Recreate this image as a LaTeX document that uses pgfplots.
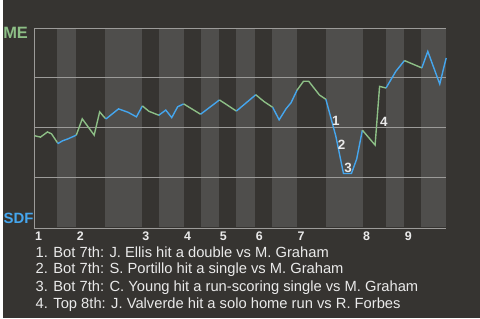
\documentclass[border=0pt]{standalone}
\usepackage{pgfplots}
\pgfplotsset{compat=1.18}
\usepackage{fontspec}
\setmainfont{Liberation Sans}
\definecolor{bg}{HTML}{363431}
\definecolor{band}{HTML}{4F4E4C}
\definecolor{gridc}{HTML}{9C9B99}
\definecolor{me}{HTML}{8DBF86}
\definecolor{sdf}{HTML}{45A6EE}
\definecolor{txt}{HTML}{EAEAEA}
\begin{document}
\begin{tikzpicture}
\fill[bg] (0pt,0pt) rectangle (480pt,320pt);
\begin{axis}[at={(32pt,91.7pt)}, anchor=south west, scale only axis,
  width=414pt, height=200pt, xmin=32, xmax=446, ymin=0, ymax=100,
  hide axis, clip=false]
% half-inning bands (bottom halves)
\fill[band] (axis cs:55,0) rectangle (axis cs:74,100);
\fill[band] (axis cs:103,0) rectangle (axis cs:140,100);
\fill[band] (axis cs:157,0) rectangle (axis cs:182,100);
\fill[band] (axis cs:199,0) rectangle (axis cs:218,100);
\fill[band] (axis cs:235,0) rectangle (axis cs:254,100);
\fill[band] (axis cs:271,0) rectangle (axis cs:296,100);
\fill[band] (axis cs:325,0) rectangle (axis cs:362,100);
\fill[band] (axis cs:385,0) rectangle (axis cs:404,100);
\fill[band] (axis cs:421,0) rectangle (axis cs:446,100);
% grid
\draw[gridc, line width=0.9pt] (axis cs:32,25) -- (axis cs:446,25);
\draw[gridc, line width=0.9pt] (axis cs:32,50) -- (axis cs:446,50);
\draw[gridc, line width=0.9pt] (axis cs:32,75) -- (axis cs:446,75);
\draw[gridc, line width=0.9pt] (axis cs:32,100) -- (axis cs:446,100);
\draw[gridc, line width=0.9pt] (axis cs:32,100) -- (axis cs:32,-0.5) -- (axis cs:446,-0.5);
% win probability line
\addplot[me, line width=1.4pt] coordinates {(32,45.9) (38,45.2) (45,47.8) (49,46.9) (55,42.4)};
\addplot[sdf, line width=1.4pt] coordinates {(55,42.4) (56,42.1) (60,43.3) (66,44.4) (74,46.2)};
\addplot[me, line width=1.4pt] coordinates {(74,46.2) (80,54.4) (92,46.2) (97.5,57.9) (103,54.7)};
\addplot[sdf, line width=1.4pt] coordinates {(103,54.7) (104.3,54.5) (116.5,59.4) (126,57.7) (134.5,55.4) (140.5,60.9)};
\addplot[me, line width=1.4pt] coordinates {(140.5,60.9) (147,58.2) (157,56.2)};
\addplot[sdf, line width=1.4pt] coordinates {(157,56.2) (164,58.8) (170,55.0) (176,60.5) (182,61.9)};
\addplot[me, line width=1.4pt] coordinates {(182,61.9) (199,56.7)};
\addplot[sdf, line width=1.4pt] coordinates {(199,56.7) (218,63.9)};
\addplot[me, line width=1.4pt] coordinates {(218,63.9) (235,58.3)};
\addplot[sdf, line width=1.4pt] coordinates {(235,58.3) (254.5,66.5)};
\addplot[me, line width=1.4pt] coordinates {(254.5,66.5) (263,63.0) (271.5,60.2)};
\addplot[sdf, line width=1.4pt] coordinates {(271.5,60.2) (278,53.9) (285,59.5) (290,62.5) (296,68.8)};
\addplot[me, line width=1.4pt] coordinates {(296,68.8) (302.5,73.3) (307.7,73.3) (318.5,66.4) (325,64.2)};
\addplot[sdf, line width=1.4pt] coordinates {(325,64.2) (335,45.7) (342.7,26.9) (350.7,26.9) (356,34.2) (361.7,48.7)};
\addplot[me, line width=1.4pt] coordinates {(361.7,48.7) (374.5,41.2) (379,70.7) (385.5,69.9)};
\addplot[sdf, line width=1.4pt] coordinates {(385.5,69.9) (395.5,78.4) (404,83.7)};
\addplot[me, line width=1.4pt] coordinates {(404,83.7) (421.5,80.0)};
\addplot[sdf, line width=1.4pt] coordinates {(421.5,80.0) (427.5,88.3) (439.5,71.9) (446,85.0)};
% event markers
\node[txt, font=\fontsize{13.5}{13.5}\selectfont\bfseries] at (axis cs:335,53.4) {1};
\node[txt, font=\fontsize{13.5}{13.5}\selectfont\bfseries] at (axis cs:340.7,41.2) {2};
\node[txt, font=\fontsize{13.5}{13.5}\selectfont\bfseries] at (axis cs:347.3,29.7) {3};
\node[txt, font=\fontsize{13.5}{13.5}\selectfont\bfseries] at (axis cs:383.3,52.8) {4};
% inning labels
\node[txt, font=\fontsize{12.5}{12.5}\selectfont\bfseries] at (axis cs:36,-4.5) {1};
\node[txt, font=\fontsize{12.5}{12.5}\selectfont\bfseries] at (axis cs:78,-4.5) {2};
\node[txt, font=\fontsize{12.5}{12.5}\selectfont\bfseries] at (axis cs:144,-4.5) {3};
\node[txt, font=\fontsize{12.5}{12.5}\selectfont\bfseries] at (axis cs:186,-4.5) {4};
\node[txt, font=\fontsize{12.5}{12.5}\selectfont\bfseries] at (axis cs:222,-4.5) {5};
\node[txt, font=\fontsize{12.5}{12.5}\selectfont\bfseries] at (axis cs:258,-4.5) {6};
\node[txt, font=\fontsize{12.5}{12.5}\selectfont\bfseries] at (axis cs:300,-4.5) {7};
\node[txt, font=\fontsize{12.5}{12.5}\selectfont\bfseries] at (axis cs:366,-4.5) {8};
\node[txt, font=\fontsize{12.5}{12.5}\selectfont\bfseries] at (axis cs:408,-4.5) {9};
\end{axis}
\node[me, font=\fontsize{16.5}{16.5}\selectfont\bfseries] at (13pt,286.7pt) {ME};
\node[sdf, font=\fontsize{15}{15}\selectfont\bfseries] at (16pt,100.3pt) {SDF};
\begin{scope}[every node/.style={txt, anchor=west, inner sep=0pt, font=\fontsize{14.8}{17}\selectfont}]
\node at (33pt,66.7pt) {1. Bot 7th: J. Ellis hit a double vs M. Graham};
\node at (33pt,49pt) {2. Bot 7th: S. Portillo hit a single vs M. Graham};
\node at (33pt,31pt) {3. Bot 7th: C. Young hit a run-scoring single vs M. Graham};
\node at (33pt,13.3pt) {4. Top 8th: J. Valverde hit a solo home run vs R. Forbes};
\end{scope}
\end{tikzpicture}
\end{document}
